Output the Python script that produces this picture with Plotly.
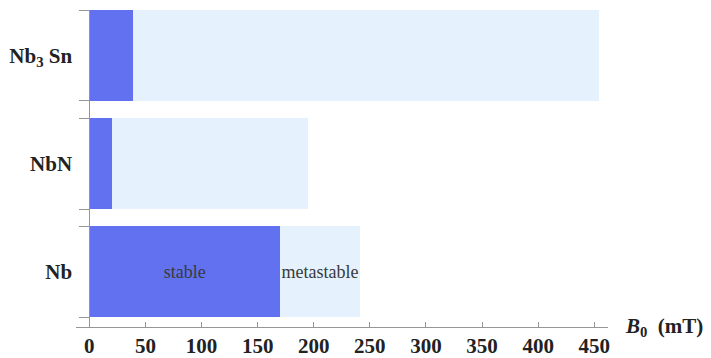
import plotly.graph_objects as go

# Critical fields of three SRF materials (mT)
materials = ["Nb", "NbN", "Nb<sub>3</sub> Sn"]
stable_field = [170, 20, 39]          # lower critical field B_c1
superheating_field = [241, 195, 454]  # superheating field B_sh
segment_labels_stable = ["stable", "", ""]
segment_labels_meta = ["metastable", "", ""]
x_ticks = [0, 50, 100, 150, 200, 250, 300, 350, 400, 450]

DARK = "rgb(97,113,240)"
LIGHT = "rgb(229,242,253)"
AXIS = "rgb(150,150,150)"
SERIF = "Liberation Serif, Times New Roman, serif"

pos = list(range(len(materials)))
bar_w = 0.84
metastable_extra = [s - b for s, b in zip(superheating_field, stable_field)]

seg_font = dict(family=SERIF, size=18, color="#3a3a3a")
fig = go.Figure()
fig.add_trace(go.Bar(
    y=pos, x=stable_field, orientation="h", width=bar_w,
    marker=dict(color=DARK, line=dict(width=0)),
    text=segment_labels_stable, textposition="inside", textangle=0,
    insidetextanchor="middle", constraintext="none",
    textfont=seg_font, insidetextfont=seg_font,
    hoverinfo="skip",
))
fig.add_trace(go.Bar(
    y=pos, x=metastable_extra, orientation="h", width=bar_w,
    marker=dict(color=LIGHT, line=dict(width=0)),
    text=segment_labels_meta, textposition="inside", textangle=0,
    insidetextanchor="middle", constraintext="none",
    textfont=seg_font, insidetextfont=seg_font,
    hoverinfo="skip",
))
# carrier for the category label axis
fig.add_trace(go.Scatter(x=[None], y=[None], yaxis="y2", showlegend=False))

x_lo, x_hi = -11.85, 462.2
y_lo, y_hi = -0.509, 2.42
y_axis_pos = (0 - x_lo) / (x_hi - x_lo)

edges = []
for p in pos:
    edges += [p - bar_w / 2, p + bar_w / 2]

label_font = dict(family=SERIF, size=21, color="#222", weight="bold")

fig.update_layout(
    width=711, height=358,
    margin=dict(l=76, r=103, t=10, b=31),
    paper_bgcolor="white", plot_bgcolor="white",
    barmode="stack", showlegend=False,
    xaxis=dict(
        range=[x_lo, x_hi], tickvals=x_ticks,
        ticks="inside", ticklen=5, tickcolor=AXIS, tickwidth=1,
        showline=True, linecolor=AXIS, linewidth=1,
        showgrid=False, zeroline=False, automargin=False,
        tickfont=label_font, ticklabelstandoff=0,
    ),
    yaxis=dict(
        range=[y_lo, y_hi], anchor="free", position=y_axis_pos,
        tickvals=edges, ticktext=[""] * len(edges),
        ticks="outside", ticklen=10, tickcolor=AXIS, tickwidth=1,
        showline=True, linecolor=AXIS, linewidth=1,
        showgrid=False, zeroline=False, automargin=False,
    ),
    yaxis2=dict(
        range=[y_lo, y_hi], overlaying="y", anchor="free", position=y_axis_pos,
        tickvals=pos, ticktext=materials,
        ticks="outside", ticklen=13, tickcolor="rgba(0,0,0,0)",
        showline=False, showgrid=False, zeroline=False, automargin=False,
        tickfont=label_font,
    ),
    annotations=[dict(
        xref="paper", yref="paper", x=1, y=0, xanchor="left", yanchor="middle",
        xshift=15, showarrow=False,
        text="<i>B</i><sub>0</sub>  (mT)",
        font=label_font,
    )],
)

fig.write_html("out.html")
